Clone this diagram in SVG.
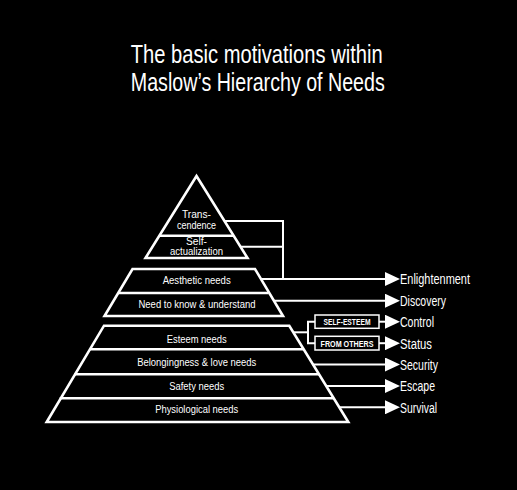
<svg xmlns="http://www.w3.org/2000/svg" width="517" height="490" viewBox="0 0 517 490">
<defs>
<style>
.bg{fill:#000}
.shape{fill:none;stroke:#fff;stroke-width:2.6;stroke-linejoin:miter}
.div{stroke:#fff;stroke-width:2.6}
.conn{fill:none;stroke:#fff;stroke-width:2}
.box{fill:#000;stroke:#fff;stroke-width:1.5}
.title{font-family:"Liberation Sans Narrow","Liberation Sans",Arial,sans-serif;font-size:25px;fill:#fff;text-anchor:middle}
.lbl{font-family:"Liberation Sans",Arial,sans-serif;font-size:10px;fill:#fff;text-anchor:middle}
.out{font-family:"Liberation Sans Narrow","Liberation Sans",Arial,sans-serif;font-size:14px;fill:#fff}
.boxt{font-family:"Liberation Sans Narrow","Liberation Sans",Arial,sans-serif;font-size:9px;font-weight:bold;fill:#fff;text-anchor:middle}
</style>
<marker id="arr" viewBox="0 0 15 14" refX="0" refY="7" markerWidth="15" markerHeight="14" markerUnits="userSpaceOnUse" orient="auto">
<path d="M0,0 L15,7 L0,14 Z" fill="#fff"/>
</marker>
</defs>
<rect class="bg" x="0" y="0" width="517" height="490"/>

<g id="title">
<text class="title" x="256.7" y="63.3" textLength="252" lengthAdjust="spacingAndGlyphs">The basic motivations within</text>
<text class="title" x="257.8" y="91" textLength="254" lengthAdjust="spacingAndGlyphs">Maslow’s Hierarchy of Needs</text>
</g>

<g id="top-triangle">
<path class="shape" d="M196.5,176 L247.5,258 L145.5,258 Z"/>
<line class="div" x1="159" y1="235.7" x2="233" y2="235.7"/>
</g>
<g id="transcendence">
<text class="lbl" x="196.5" y="217.5" textLength="29" lengthAdjust="spacingAndGlyphs">Trans-</text>
<text class="lbl" x="196.5" y="228.5" textLength="39" lengthAdjust="spacingAndGlyphs">cendence</text>
</g>
<g id="self-actualization">
<text class="lbl" x="196.5" y="244.5" textLength="21" lengthAdjust="spacingAndGlyphs">Self-</text>
<text class="lbl" x="196.5" y="254.5" textLength="53" lengthAdjust="spacingAndGlyphs">actualization</text>
</g>

<g id="middle-trapezoid">
<path class="shape" d="M132.5,269 L255,269 L283,316 L104.5,316 Z"/>
<line class="div" x1="119" y1="293" x2="268.5" y2="293"/>
</g>
<g id="aesthetic">
<text class="lbl" x="196.7" y="283.6" textLength="68" lengthAdjust="spacingAndGlyphs">Aesthetic needs</text>
</g>
<g id="know">
<text class="lbl" x="197" y="307.6" textLength="117" lengthAdjust="spacingAndGlyphs">Need to know &amp; understand</text>
</g>

<g id="bottom-trapezoid">
<path class="shape" d="M104,325.7 L289.3,325.7 L348.3,422 L46.7,422 Z"/>
<line class="div" x1="89.7" y1="349.3" x2="303.8" y2="349.3"/>
<line class="div" x1="74.4" y1="374.3" x2="319.1" y2="374.3"/>
<line class="div" x1="59.7" y1="398.3" x2="333.8" y2="398.3"/>
</g>
<g id="esteem">
<text class="lbl" x="196.7" y="342.6" textLength="60" lengthAdjust="spacingAndGlyphs">Esteem needs</text>
</g>
<g id="belonging">
<text class="lbl" x="196.7" y="365.9" textLength="119" lengthAdjust="spacingAndGlyphs">Belongingness &amp; love needs</text>
</g>
<g id="safety">
<text class="lbl" x="196.7" y="389.6" textLength="55" lengthAdjust="spacingAndGlyphs">Safety needs</text>
</g>
<g id="physiological">
<text class="lbl" x="196.7" y="412.9" textLength="83" lengthAdjust="spacingAndGlyphs">Physiological needs</text>
</g>

<g id="self-esteem-box">
<rect class="box" x="315" y="315" width="64" height="13.3"/>
<text class="boxt" x="347" y="325" textLength="47" lengthAdjust="spacingAndGlyphs">SELF-ESTEEM</text>
</g>
<g id="from-others-box">
<rect class="box" x="315" y="336.3" width="64" height="13.7"/>
<text class="boxt" x="347" y="346.5" textLength="53" lengthAdjust="spacingAndGlyphs">FROM  OTHERS</text>
</g>

<g id="connectors">
<polyline class="conn" points="224.5,221 283,221 283,279"/>
<line class="conn" x1="240.5" y1="246.7" x2="283" y2="246.7"/>
<line class="conn" x1="261" y1="279" x2="385" y2="279" marker-end="url(#arr)"/>
<line class="conn" x1="274" y1="300.7" x2="385" y2="300.7" marker-end="url(#arr)"/>
<line class="conn" x1="293" y1="332.3" x2="308" y2="332.3"/>
<polyline class="conn" points="315,321.7 308,321.7 308,343.2 315,343.2"/>
<line class="conn" x1="379" y1="321.7" x2="385" y2="321.7" marker-end="url(#arr)"/>
<line class="conn" x1="379" y1="343.2" x2="385" y2="343.2" marker-end="url(#arr)"/>
<line class="conn" x1="312.8" y1="364.5" x2="385" y2="364.5" marker-end="url(#arr)"/>
<line class="conn" x1="326.3" y1="386" x2="385" y2="386" marker-end="url(#arr)"/>
<line class="conn" x1="339.2" y1="407.3" x2="385" y2="407.3" marker-end="url(#arr)"/>
</g>

<g id="outcomes">
<text class="out" x="400" y="284.3" textLength="70" lengthAdjust="spacingAndGlyphs">Enlightenment</text>
<text class="out" x="400" y="306" textLength="46" lengthAdjust="spacingAndGlyphs">Discovery</text>
<text class="out" x="400" y="327" textLength="34" lengthAdjust="spacingAndGlyphs">Control</text>
<text class="out" x="400" y="348.5" textLength="32" lengthAdjust="spacingAndGlyphs">Status</text>
<text class="out" x="400" y="369.8" textLength="38" lengthAdjust="spacingAndGlyphs">Security</text>
<text class="out" x="400" y="391.3" textLength="35" lengthAdjust="spacingAndGlyphs">Escape</text>
<text class="out" x="400" y="412.6" textLength="37" lengthAdjust="spacingAndGlyphs">Survival</text>
</g>
</svg>
